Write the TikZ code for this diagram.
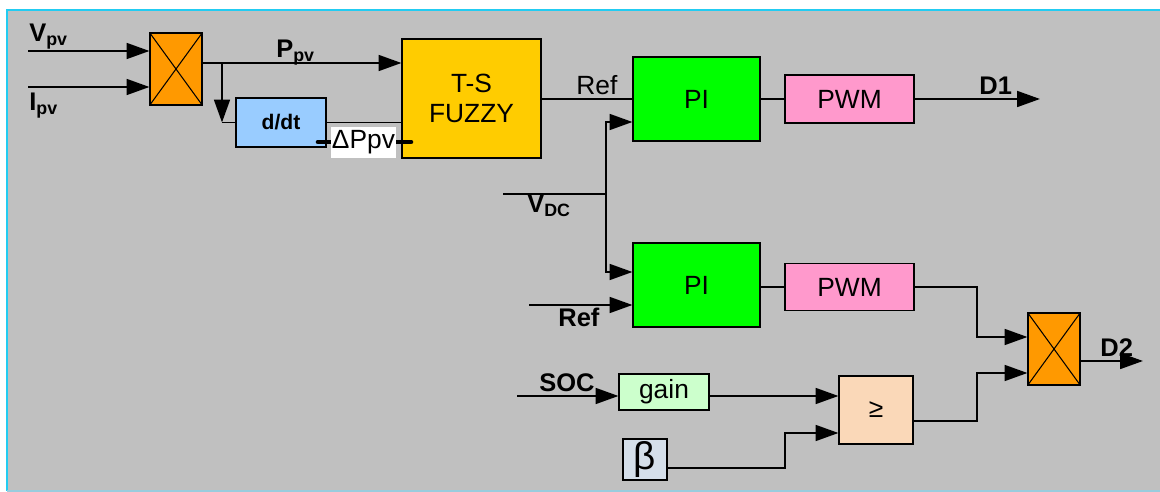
\documentclass[tikz,border=0pt]{standalone}
\usepackage{fontspec}
\setmainfont{Liberation Sans}
\usepackage{tikz}
\usetikzlibrary{arrows.meta, positioning, calc}
\definecolor{greycol}{HTML}{C0C0C0}
\definecolor{framecol}{HTML}{22CCF2}
\definecolor{framebotcol}{HTML}{99CCDD}
\definecolor{multcol}{HTML}{FF9900}
\definecolor{diffcol}{HTML}{99CCFF}
\definecolor{fuzzycol}{HTML}{FFCC00}
\definecolor{picol}{HTML}{00FF00}
\definecolor{pwmcol}{HTML}{FF99CC}
\definecolor{gaincol}{HTML}{CCFFCC}
\definecolor{cmpcol}{HTML}{FAD8B8}
\definecolor{betacol}{HTML}{D5DFEA}

\begin{document}
\begin{tikzpicture}[
  x=0.02cm, y=-0.02cm,
  every node/.style={font=\fontsize{15}{17.5}\selectfont},
  blk/.style={rectangle, draw=black, fill=#1, inner sep=0pt, line width=0.6pt},
  sz/.style 2 args={minimum width=#1*0.02cm, minimum height=#2*0.02cm},
  lbl/.style={anchor=base west, inner sep=0pt,
              font=\fontsize{14.5}{17}\selectfont\bfseries},
  arr/.style={line width=1.2pt, -{Triangle[length=13pt, width=9pt]}},
  wire/.style={line width=0.6pt},
  bus/.style={line width=1.2pt},
]
  \useasboundingbox (0,0) rectangle (1160,492);
  \fill[greycol] (7,10) rectangle (1160,491);
  \draw[framecol, line width=1pt] (7,491) -- (7,10) -- (1160,10);
  \draw[framebotcol, line width=1pt] (7,491) -- (1160,491);

  \node[blk=multcol, sz={52}{72}] (mul1) at (176,69) {};
  \node[blk=diffcol, sz={90}{49}, font=\fontsize{12}{14}\selectfont\bfseries] (dt) at (281,122.5) {d/dt};
  \node[blk=fuzzycol, sz={139}{119}, align=center] (fz) at (471.5,98.5) {T-S\\FUZZY};
  \node[blk=picol, sz={127}{84}] (pi1) at (696.5,99) {PI};
  \node[blk=pwmcol, sz={129}{48}] (pwm1) at (849.5,99) {PWM};
  \node[blk=picol, sz={127}{84}] (pi2) at (696.5,285) {PI};
  \node[blk=pwmcol, sz={129}{47}] (pwm2) at (849.5,287) {PWM};
  \node[blk=multcol, sz={52}{72}] (mul2) at (1054,349) {};
  \node[blk=gaincol, sz={90}{36}] (gain) at (664,392) {gain};
  \node[blk=cmpcol, sz={74}{68}] (ge) at (876,410) {≥};
  \node[blk=betacol, sz={44}{41}, font=\fontsize{22}{24}\selectfont] (beta) at (645,459.5) {β};

  \foreach \m in {mul1, mul2}
    \draw[wire] (\m.north west) -- (\m.south east) (\m.south west) -- (\m.north east);

  \coordinate (vpv) at (28,51);
  \coordinate (ipv) at (28,87);
  \coordinate (ppv) at (202,63);
  \coordinate (br) at (222,63);
  \coordinate (dpa) at (318,142);
  \coordinate (dpb) at (411,142);
  \coordinate (d1) at (1040,99);
  \coordinate (vdc) at (503,194);
  \coordinate (vj) at (606,194);
  \coordinate (vt) at (606,122);
  \coordinate (vb) at (606,272);
  \coordinate (ref2) at (529,305);
  \coordinate (ka) at (977,337);
  \coordinate (kb) at (977,373);
  \coordinate (d2) at (1143,361);
  \coordinate (soc) at (517,396);
  \coordinate (kc) at (785,433);

  \draw[arr] (vpv) -- (vpv -| mul1.west);
  \draw[arr] (ipv) -- (ipv -| mul1.west);
  \draw[arr] (ppv) -- (ppv -| fz.west);
  \draw[arr] (br) -- (br |- dt.west);
  \draw[wire] (br |- dt.west) -- (dt.west);
  \draw[wire] (dt.east) -- (dt.east -| fz.west);
  \draw[line width=2.6pt, line cap=round] (dpa) -- (dpb);
  \node[fill=white, inner sep=0pt, sz={65}{31}] (dp) at (363.5,142.5) {ΔPpv};
  \draw[wire] (fz.east |- pi1.west) -- (pi1.west);
  \draw[wire] (pi1.east) -- (pwm1.west);
  \draw[arr] (pwm1.east) -- (d1);
  \draw[bus] (vdc) -- (vj);
  \draw[arr] (vj) -- (vt) -- (vt -| pi1.west);
  \draw[arr] (vj) -- (vb) -- (vb -| pi2.west);
  \draw[arr] (ref2) -- (ref2 -| pi2.west);
  \draw[wire] (pi2.east |- pwm2.west) -- (pwm2.west);
  \draw[arr] (pwm2.east) -| (ka) -- (ka -| mul2.west);
  \draw[arr] ([yshift=-0.22cm]ge.east) -| (kb) -- (kb -| mul2.west);
  \draw[arr] (mul2.east |- d2) -- (d2);
  \draw[arr] (soc) -- (soc -| gain.west);
  \draw[arr] (gain.east |- soc) -- (soc -| ge.west);
  \draw[arr] ([yshift=-0.17cm]beta.east) -| (kc) -- (kc -| ge.west);

  \node[lbl] (vpvtxt) at (29,42) {V\textsubscript{pv}};
  \node[lbl] (ipvtxt) at (29,111) {I\textsubscript{pv}};
  \node[lbl] (ppvtxt) at (276,58) {P\textsubscript{pv}};
  \node[lbl, font=\fontsize{15}{17.5}\selectfont] (reftxt) at (576,95) {Ref};
  \node[lbl] (d1txt) at (979,95) {D1};
  \node[lbl] (vdctxt) at (527,213) {V\textsubscript{DC}};
  \node[lbl] (ref2txt) at (558,327) {Ref};
  \node[lbl] (soctxt) at (539,392) {SOC};
  \node[lbl] (d2txt) at (1100,357) {D2};
\end{tikzpicture}
\end{document}
